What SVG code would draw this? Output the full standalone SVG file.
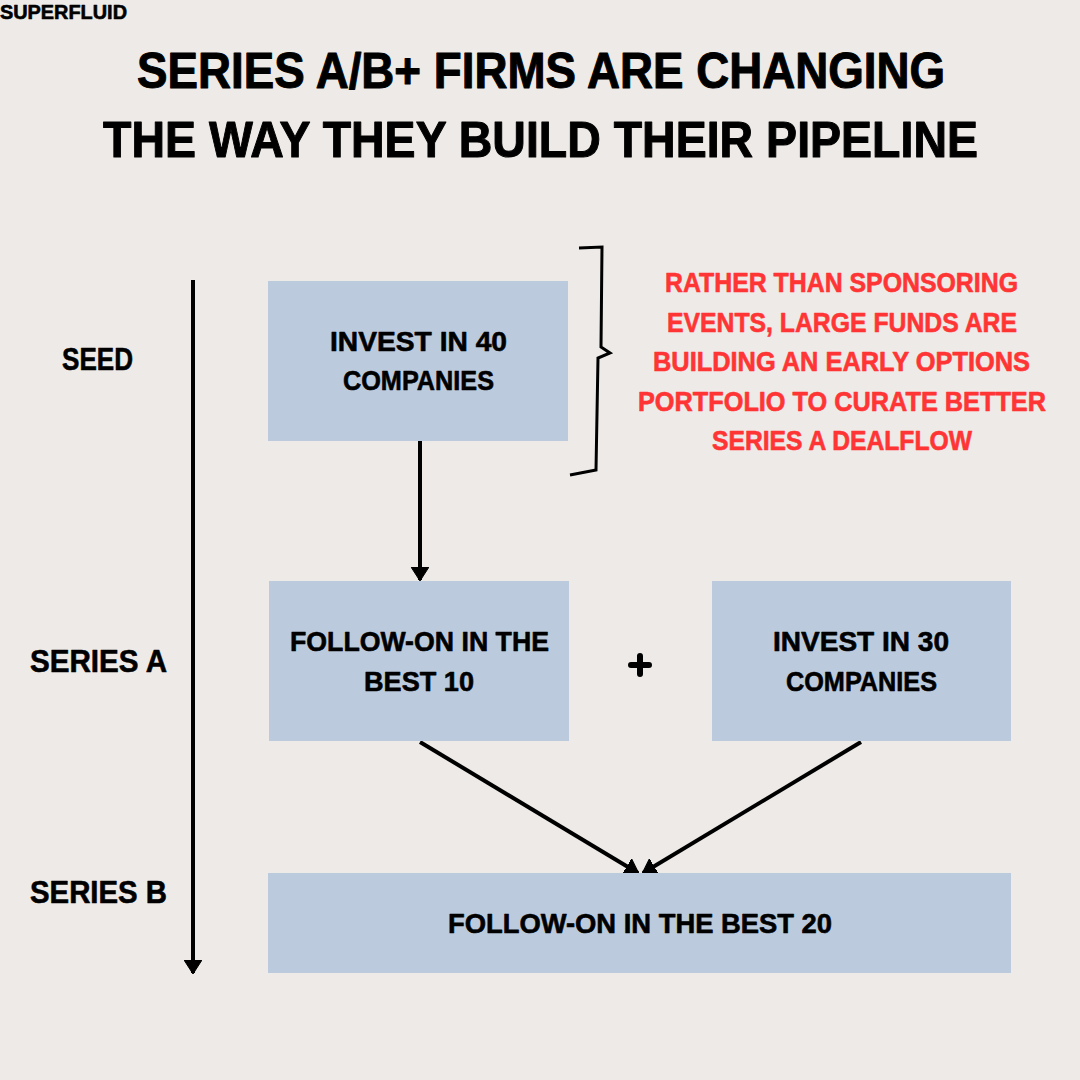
<svg xmlns="http://www.w3.org/2000/svg" width="1080" height="1080" viewBox="0 0 1080 1080">
<defs>
<style>
.t{font-family:"Liberation Sans",Arial,sans-serif;font-weight:bold;fill:#000;stroke:#000;stroke-width:0.6;stroke-linejoin:round}
.r{fill:#ff3535;stroke:#ff3535}
.box{fill:#bbcbdd}
.ln{stroke:#000;stroke-width:4;fill:none;stroke-linecap:butt}
</style>
<marker id="ah2" viewBox="0 0 14 18" refX="13" refY="9" markerWidth="14" markerHeight="18" markerUnits="userSpaceOnUse" orient="auto">
<path d="M0,0 L14,9 L0,18 Z" fill="#000" stroke="#000" stroke-width="1" stroke-linejoin="round"/>
</marker>
</defs>
<rect width="1080" height="1080" fill="#eeeae7"/>

<text class="t" x="0" y="19" font-size="20" textLength="127" lengthAdjust="spacingAndGlyphs">SUPERFLUID</text>

<g id="title">
<text class="t" x="137" y="88" font-size="50" textLength="808" lengthAdjust="spacingAndGlyphs" style="stroke-width:1">SERIES A/B+ FIRMS ARE CHANGING</text>
<text class="t" x="103" y="157" font-size="50" textLength="875" lengthAdjust="spacingAndGlyphs" style="stroke-width:1">THE WAY THEY BUILD THEIR PIPELINE</text>
</g>

<g id="stage-labels">
<text class="t" x="62" y="370" font-size="32" textLength="71" lengthAdjust="spacingAndGlyphs">SEED</text>
<text class="t" x="30" y="672" font-size="32" textLength="137" lengthAdjust="spacingAndGlyphs">SERIES A</text>
<text class="t" x="30" y="903" font-size="32" textLength="137" lengthAdjust="spacingAndGlyphs">SERIES B</text>
</g>

<g id="connectors">
<line class="ln" x1="193" y1="280" x2="193" y2="973" marker-end="url(#ah2)"/>
<line class="ln" x1="420" y1="441" x2="420" y2="580" marker-end="url(#ah2)"/>
<line class="ln" x1="420" y1="742" x2="638" y2="873" marker-end="url(#ah2)"/>
<line class="ln" x1="861" y1="742" x2="643" y2="873" marker-end="url(#ah2)"/>
<path d="M640,656 L640,674 M631,665 L649,665" stroke="#000" stroke-width="6" stroke-linecap="round" fill="none"/>
</g>

<g id="bracket">
<path d="M579,248 L602,247 L601,347 L610,353 L598,358 L596,470 L570,475" stroke="#000" stroke-width="3" fill="none" stroke-linejoin="miter"/>
</g>

<g id="node-seed">
<rect class="box" x="268" y="281" width="300" height="160"/>
<text class="t" x="330" y="351" font-size="28" textLength="177" lengthAdjust="spacingAndGlyphs">INVEST IN 40</text>
<text class="t" x="343" y="390" font-size="28" textLength="151" lengthAdjust="spacingAndGlyphs">COMPANIES</text>
</g>

<g id="node-followon-a">
<rect class="box" x="269" y="581" width="300" height="160"/>
<text class="t" x="290" y="651" font-size="28" textLength="259" lengthAdjust="spacingAndGlyphs">FOLLOW-ON IN THE</text>
<text class="t" x="364" y="691" font-size="28" textLength="110" lengthAdjust="spacingAndGlyphs">BEST 10</text>
</g>

<g id="node-invest-a">
<rect class="box" x="712" y="581" width="299" height="160"/>
<text class="t" x="773" y="651" font-size="28" textLength="176" lengthAdjust="spacingAndGlyphs">INVEST IN 30</text>
<text class="t" x="786" y="691" font-size="28" textLength="151" lengthAdjust="spacingAndGlyphs">COMPANIES</text>
</g>

<g id="node-series-b">
<rect class="box" x="268" y="873" width="743" height="100"/>
<text class="t" x="448" y="933" font-size="28" textLength="384" lengthAdjust="spacingAndGlyphs">FOLLOW-ON IN THE BEST 20</text>
</g>

<g id="note">
<text class="t r" x="665" y="292" font-size="27" textLength="353" lengthAdjust="spacingAndGlyphs">RATHER THAN SPONSORING</text>
<text class="t r" x="667" y="332" font-size="27" textLength="350" lengthAdjust="spacingAndGlyphs">EVENTS, LARGE FUNDS ARE</text>
<text class="t r" x="653" y="371" font-size="27" textLength="377" lengthAdjust="spacingAndGlyphs">BUILDING AN EARLY OPTIONS</text>
<text class="t r" x="638" y="411" font-size="27" textLength="408" lengthAdjust="spacingAndGlyphs">PORTFOLIO TO CURATE BETTER</text>
<text class="t r" x="712" y="450" font-size="27" textLength="260" lengthAdjust="spacingAndGlyphs">SERIES A DEALFLOW</text>
</g>
</svg>
